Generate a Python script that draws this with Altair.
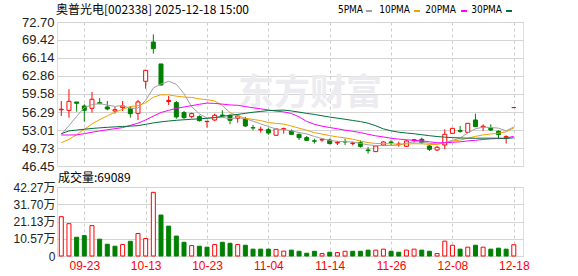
import altair as alt
import pandas as pd
import numpy as np

# ---------------- data ----------------
dates = ["09-18", "09-19", "09-22", "09-23", "09-24", "09-25", "09-26", "09-29", "09-30",
         "10-09", "10-10", "10-13", "10-14", "10-15", "10-16", "10-17", "10-20", "10-21",
         "10-22", "10-23", "10-24", "10-27", "10-28", "10-29", "10-30", "10-31",
         "11-03", "11-04", "11-05", "11-06", "11-07", "11-10", "11-11", "11-12", "11-13",
         "11-14", "11-17", "11-18", "11-19", "11-20", "11-21", "11-24", "11-25", "11-26",
         "11-27", "11-28", "12-01", "12-02", "12-03", "12-04", "12-05", "12-08", "12-09",
         "12-10", "12-11", "12-12", "12-15", "12-16", "12-17", "12-18"]

open_p = [56.70, 56.60, 58.12, 57.39, 56.97, 58.00, 57.21, 56.48, 57.09, 56.97,
          56.05, 61.89, 69.05, 65.05, 58.20, 58.00, 56.18, 55.45, 55.45, 54.54,
          54.84, 55.75, 55.69, 55.14, 55.08, 53.44, 53.02, 53.08, 52.05, 53.14,
          52.84, 52.23, 51.62, 51.04, 51.19, 51.19, 50.65, 50.89, 50.53, 50.71,
          49.37, 49.07, 50.28, 50.83, 50.34, 50.04, 51.13, 51.32, 50.10, 49.37,
          50.28, 52.41, 52.90, 52.59, 54.84, 53.56, 53.32, 52.77, 51.68, 57.10]
high_p = [58.30, 60.43, 58.12, 57.70, 59.94, 58.79, 58.30, 57.21, 58.30, 57.39,
          58.48, 64.00, 70.45, 65.05, 59.21, 58.30, 56.48, 56.18, 55.69, 54.66,
          56.00, 56.60, 55.87, 55.87, 55.39, 53.93, 53.62, 53.44, 53.26, 53.44,
          53.14, 52.35, 51.92, 51.44, 51.44, 51.44, 51.01, 51.44, 50.89, 51.13,
          49.92, 50.10, 51.01, 51.13, 50.89, 51.19, 51.38, 51.62, 50.28, 50.10,
          53.14, 53.32, 53.75, 54.23, 56.00, 54.05, 54.05, 52.96, 52.05, 57.10]
low_p = [55.57, 55.26, 56.36, 54.53, 56.18, 57.70, 56.60, 55.99, 56.48, 55.26,
         54.84, 60.55, 66.93, 61.10, 57.58, 55.08, 55.08, 55.14, 54.54, 53.44,
         54.66, 55.45, 54.05, 54.35, 53.56, 52.96, 52.53, 52.11, 52.05, 52.35,
         52.11, 51.19, 51.01, 50.53, 50.89, 50.40, 50.28, 50.28, 50.22, 49.80,
         48.70, 49.07, 50.10, 50.28, 49.98, 49.92, 50.71, 50.53, 49.19, 49.19,
         49.49, 52.41, 52.53, 52.59, 53.56, 52.84, 52.84, 51.32, 50.53, 57.10]
close_p = [56.80, 58.24, 57.88, 56.60, 58.61, 57.82, 56.84, 56.72, 57.39, 55.99,
           58.12, 63.89, 67.84, 61.22, 58.40, 55.39, 55.26, 56.00, 54.72, 54.60,
           55.69, 55.63, 54.78, 55.57, 53.75, 53.38, 53.14, 52.47, 53.20, 53.26,
           52.23, 51.62, 51.13, 50.98, 51.32, 50.53, 50.77, 50.83, 50.65, 50.04,
           49.25, 50.10, 50.83, 50.71, 50.46, 51.01, 51.25, 50.71, 49.49, 49.86,
           52.23, 53.32, 52.77, 54.23, 53.62, 53.69, 53.02, 52.17, 51.80, 57.10]
volume_wan = [24.1, 19.8, 11.5, 12.5, 18.6, 10.3, 7.2, 6.0, 7.0, 9.0,
              13.8, 10.7, 39.0, 25.1, 18.3, 12.2, 8.4, 6.4, 6.0, 5.4,
              7.0, 8.4, 7.8, 7.0, 6.6, 4.2, 4.2, 4.2, 4.0, 3.0,
              3.6, 2.9, 1.7, 2.9, 1.5, 2.3, 2.1, 2.9, 2.9, 2.9,
              3.6, 3.6, 4.2, 2.9, 2.3, 3.6, 4.2, 3.6, 2.9, 1.5,
              9.1, 6.6, 4.2, 5.4, 6.6, 5.4, 4.2, 4.8, 4.2, 6.91]
ma5 = [52.22, 53.80, 55.50, 57.10, 57.63, 57.83, 57.55, 57.32, 57.48, 56.95,
       57.01, 58.42, 60.65, 61.41, 61.89, 61.35, 59.62, 57.25, 55.95, 55.19,
       55.25, 55.33, 55.08, 55.25, 55.08, 54.62, 54.12, 53.66, 53.19, 53.09,
       52.86, 52.56, 52.29, 51.84, 51.46, 51.12, 50.95, 50.89, 50.82, 50.56,
       50.31, 50.17, 50.17, 50.19, 50.27, 50.62, 50.85, 50.83, 50.58, 50.46,
       50.71, 51.12, 51.53, 52.48, 53.23, 53.53, 53.47, 53.35, 52.86, 53.56]
ma10 = [50.70, 51.30, 52.15, 53.15, 54.10, 54.90, 55.60, 56.25, 56.80, 57.29,
        57.42, 57.99, 58.98, 59.44, 59.42, 59.18, 59.02, 58.95, 58.68, 58.54,
        58.30, 57.48, 56.17, 55.60, 55.14, 54.94, 54.73, 54.37, 54.22, 54.09,
        53.74, 53.34, 52.98, 52.52, 52.27, 51.99, 51.75, 51.59, 51.33, 51.01,
        50.71, 50.56, 50.53, 50.50, 50.42, 50.47, 50.51, 50.50, 50.39, 50.37,
        50.67, 50.99, 51.18, 51.53, 51.85, 52.12, 52.29, 52.44, 52.67, 53.40]
ma20 = [52.10, 52.10, 52.12, 52.35, 52.60, 52.85, 53.05, 53.25, 53.45, 53.85,
        54.25, 54.85, 55.55, 56.20, 56.60, 56.95, 57.20, 57.45, 57.70, 57.92,
        57.86, 57.73, 57.58, 57.52, 57.28, 57.06, 56.87, 56.66, 56.45, 56.32,
        56.02, 55.41, 54.57, 54.06, 53.71, 53.46, 53.24, 52.98, 52.78, 52.55,
        52.23, 51.95, 51.75, 51.51, 51.35, 51.23, 51.13, 51.04, 50.86, 50.69,
        50.69, 50.77, 50.86, 51.02, 51.13, 51.29, 51.40, 51.47, 51.53, 51.88]
ma30 = [52.34, 52.85, 53.00, 53.15, 53.30, 53.40, 53.50, 53.58, 53.65, 53.72,
        53.80, 54.05, 54.30, 54.50, 54.65, 54.78, 54.88, 54.97, 55.05, 55.15,
        55.28, 55.50, 55.68, 55.85, 56.05, 56.25, 56.40, 56.55, 56.60, 56.64,
        56.49, 56.27, 56.04, 55.85, 55.61, 55.37, 55.17, 54.97, 54.75, 54.55,
        54.25, 53.79, 53.22, 52.87, 52.61, 52.46, 52.33, 52.15, 51.98, 51.82,
        51.71, 51.63, 51.56, 51.52, 51.51, 51.52, 51.52, 51.51, 51.46, 51.59]

price_ticks = [46.45, 49.73, 53.01, 56.29, 59.58, 62.86, 66.14, 69.42, 72.70]
vol_ticks = [0, 10.57, 21.13, 31.70, 42.27]
x_tick_labels = ["09-23", "10-13", "10-23", "11-04", "11-14", "11-26", "12-08", "12-18"]
title_text = "奥普光电[002338]  2025-12-18  15:00"
vol_title = "成交量:69089"
ma_keys = ["ma5", "ma10", "ma20", "ma30"]
ma_labels = ["5PMA", "10PMA", "20PMA", "30PMA"]
watermark = "东方财富"

# ---------------- styles / layout ----------------
RED = "#ff0000"
GREEN = "#008000"
ma_colors = ["#a0a0a0", "#f0a000", "#ff00ff", "#00703a"]
CJK = "Noto Sans CJK SC"
LAT = "Liberation Sans, Noto Sans CJK SC"
W, PH, VH = 466, 144, 69
legend_text_end = [306, 353, 399, 445]
legend_dash_x = [309, 357, 404, 449]

n = len(dates)
df = pd.DataFrame({
    "i": list(range(n)), "date": dates, "open": open_p, "high": high_p,
    "low": low_p, "close": close_p, "vol": volume_wan,
    "ma5": ma5, "ma10": ma10, "ma20": ma20, "ma30": ma30,
})
prev = df["close"].shift(1).fillna(df["close"])
up = (df["close"] > df["open"]) | ((df["close"] == df["open"]) & (df["close"] >= prev))
df["ccol"] = np.where(up, RED, GREEN)
df["cfill"] = np.where(up, "#ffffff", GREEN)
vup = df["close"] >= prev
df["vcol"] = np.where(vup, RED, GREEN)
df["vfill"] = np.where(vup, "#ffffff", GREEN)

tick_idx = [dates.index(d) for d in x_tick_labels]
label_expr = " : ".join(f"datum.value == {i} ? '{d}'" for i, d in zip(tick_idx, x_tick_labels)) + " : ''"

xscale = alt.Scale(domain=[-0.56, n + 0.2], nice=False, zero=False, padding=0)
pscale = alt.Scale(domain=[price_ticks[0], price_ticks[-1]], nice=False, zero=False, padding=0)
vscale = alt.Scale(domain=[0, vol_ticks[-1]], nice=False, padding=0)

x_axis_p = alt.Axis(values=tick_idx, labels=False, ticks=False, domain=False, grid=True,
                    gridDash=[3, 3], gridColor="#cccccc", title=None)
y_axis_p = alt.Axis(values=price_ticks, format=".2f", ticks=False, domain=False, grid=True,
                    gridColor="#d4d4d4", labelFontSize=13, labelColor="#222222",
                    labelFont=LAT, labelPadding=3, labelFlush=False, title=None)
x_axis_v = alt.Axis(values=tick_idx, labelExpr=label_expr, ticks=False, domain=False, grid=True,
                    gridDash=[3, 3], gridColor="#cccccc", labelColor=RED, labelFontSize=12,
                    labelFont=LAT, labelPadding=4, labelFlush=False, title=None)
y_axis_v = alt.Axis(values=vol_ticks,
                    labelExpr="datum.value == 0 ? '0' : format(datum.value, '.2f') + '万'",
                    ticks=False, domain=False, grid=True, gridColor="#d4d4d4",
                    labelFontSize=12, labelColor="#222222", labelFont=LAT, labelPadding=2,
                    labelFlush=False, title=None)

X = alt.X("i:Q", scale=xscale, axis=x_axis_p, title=None)


def YP(field):
    return alt.Y(f"{field}:Q", scale=pscale, axis=y_axis_p, title=None)


def one(text):
    return alt.Chart(pd.DataFrame({"t": [text]}))


base = alt.Chart(df)

anchor = one("").mark_rect(opacity=0).encode(
    x=alt.value(-56), x2=alt.value(0), y=alt.value(-21), y2=alt.value(0))

wm = one(watermark).mark_text(fontSize=36, fontWeight="bold", font=CJK, color="#ececf0").encode(
    text="t:N", x=alt.value(253), y=alt.value(72))

wicks = base.mark_rule(strokeWidth=1).encode(
    x=X, y=YP("low"), y2="high:Q", color=alt.Color("ccol:N", scale=None))

bodies = base.mark_bar(size=4, strokeWidth=1).encode(
    x=X, y=YP("open"), y2="close:Q",
    fill=alt.Fill("cfill:N", scale=None), stroke=alt.Stroke("ccol:N", scale=None))

lines = base.transform_fold(ma_keys, as_=["ma", "val"]).mark_line(strokeWidth=1).encode(
    x=X, y=YP("val"),
    color=alt.Color("ma:N", scale=alt.Scale(domain=ma_keys, range=ma_colors), legend=None))

title = one(title_text).mark_text(align="left", baseline="middle", fontSize=12, font=CJK,
                                  color="#000000").encode(
    text="t:N", x=alt.value(-1), y=alt.value(-12))

legend_layers = []
for lab, col, tx, dx in zip(ma_labels, ma_colors, legend_text_end, legend_dash_x):
    legend_layers.append(one(lab).mark_text(align="right", baseline="middle", fontSize=10,
                                            font="Liberation Sans Narrow, DejaVu Sans Condensed",
                                            color="#000000").encode(
        text="t:N", x=alt.value(tx), y=alt.value(-12)))
    legend_layers.append(one(lab).mark_rect(color=col).encode(
        x=alt.value(dx), x2=alt.value(dx + 6), y=alt.value(-12), y2=alt.value(-10)))

price = alt.layer(anchor, wm, wicks, bodies, lines, title, *legend_layers).properties(
    width=W, height=PH)

XV = alt.X("i:Q", scale=xscale, axis=x_axis_v, title=None)
vbars = base.mark_bar(size=4, strokeWidth=1).encode(
    x=XV, y=alt.Y("vol:Q", scale=vscale, axis=y_axis_v, title=None),
    fill=alt.Fill("vfill:N", scale=None), stroke=alt.Stroke("vcol:N", scale=None))
vtitle = one(vol_title).mark_text(align="left", baseline="middle", fontSize=12, font=CJK,
                                  color="#000000").encode(
    text="t:N", x=alt.value(1), y=alt.value(-9))

volume = alt.layer(vbars, vtitle).properties(width=W, height=VH)

chart = alt.vconcat(price, volume, spacing=21, bounds="flush").properties(
    padding={"left": 0, "top": 0, "right": 0, "bottom": 0}
).configure_view(stroke="#999999", strokeWidth=1).configure(background="#ffffff")

chart.save("out.html", embed_options={"renderer": "svg", "actions": False})
